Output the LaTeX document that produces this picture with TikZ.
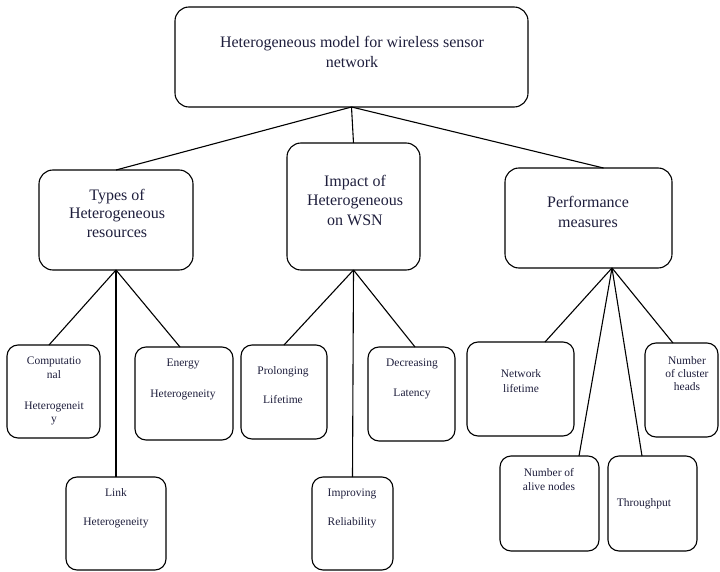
\documentclass[tikz,border=0pt]{standalone}
\usepackage{fontspec}
\setmainfont{Liberation Serif}
\usetikzlibrary{calc}
\definecolor{ink}{RGB}{30,30,60}
\begin{document}
\begin{tikzpicture}[x=1pt,y=-1pt,
  box/.style={draw=black, line width=1.1pt, rounded corners=14pt, inner sep=0pt, outer sep=0pt},
  sbox/.style={box, rounded corners=11pt},
  big/.style={font=\fontsize{16}{19}\selectfont, align=center, inner sep=0pt, text=ink},
  small/.style={font=\fontsize{11.5}{13.5}\selectfont, align=center, inner sep=0pt, text=ink},
  conn/.style={line width=1.1pt, draw=black}]
\useasboundingbox (0,0) rectangle (720,572);
% boxes
\node[box, minimum width=353pt, minimum height=100pt] (root) at (351.5,57) {};
\node[box, minimum width=154pt, minimum height=100pt] (types) at (116,220) {};
\node[box, minimum width=133pt, minimum height=127pt] (impact) at (353.5,206.5) {};
\node[box, minimum width=167pt, minimum height=100pt] (perf) at (588.5,218) {};
\node[sbox, minimum width=93pt, minimum height=93pt] (comp) at (53.5,391.5) {};
\node[sbox, minimum width=98pt, minimum height=93pt] (energy) at (184,393.5) {};
\node[sbox, minimum width=100pt, minimum height=93pt] (linkb) at (116,523.5) {};
\node[sbox, minimum width=86pt, minimum height=94pt] (prolong) at (284,392) {};
\node[sbox, minimum width=87pt, minimum height=94pt] (decr) at (411.5,394) {};
\node[sbox, minimum width=81pt, minimum height=93pt] (impr) at (352.5,523.5) {};
\node[sbox, minimum width=107pt, minimum height=94pt] (net) at (520.5,389) {};
\node[sbox, minimum width=73pt, minimum height=94pt] (clus) at (681.5,390) {};
\node[sbox, minimum width=99pt, minimum height=95pt] (alive) at (549.5,503.5) {};
\node[sbox, minimum width=89pt, minimum height=95pt] (thr) at (652.5,503.5) {};
% texts
\node[big, font=\fontsize{16}{20}\selectfont] (troot) at (352,52) {Heterogeneous model for wireless sensor\\network};
\node[big, font=\fontsize{16}{18.5}\selectfont] (ttypes) at (117,213) {Types of\\Heterogeneous\\resources};
\node[big, font=\fontsize{16}{19.5}\selectfont] (timpact) at (355,200) {Impact of\\Heterogeneous\\on WSN};
\node[big, font=\fontsize{16}{20}\selectfont] (tperf) at (588,212) {Performance\\measures};
\node[small, font=\fontsize{11.5}{13.5}\selectfont] (tcomp) at (54,391) {Computatio\\nal\\[17.5pt]Heterogeneit\\y};
\node[small] (tenergy) at (183,379.5) {Energy\\[17pt]Heterogeneity};
\node[small] (tlink) at (116,508.5) {Link\\[15.5pt]Heterogeneity};
\node[small] (tprolong) at (283,385.5) {Prolonging\\[15.5pt]Lifetime};
\node[small] (tdecr) at (412,379) {Decreasing\\[16.5pt]Latency};
\node[small] (timpr) at (352,508.5) {Improving\\[15.5pt]Reliability};
\node[small] (tnet) at (521,381) {Network\\[1.5pt]lifetime};
\node[small, font=\fontsize{11.5}{13}\selectfont] (tclus) at (687,374) {Number\\of cluster\\heads};
\node[small, font=\fontsize{11.5}{14}\selectfont] (talive) at (549,480) {Number of\\alive nodes};
\node[small] (tthr) at (644,504) {Throughput};
% connectors
\draw[conn] (root.south) -- (types.north);
\draw[conn] (root.south) -- (impact.north);
\draw[conn] (root.south) -- ([xshift=15pt]perf.north);
\draw[conn] (types.south) -- ([xshift=-4.5pt]comp.north);
\draw[conn] (types.south) -- ([xshift=-4pt]energy.north);
\draw[conn] (types.south) -- (linkb.north);
\draw[conn] (impact.south) -- (prolong.north);
\draw[conn] (impact.south) -- ([xshift=3.5pt]decr.north);
\draw[conn] (impact.south) -- (impr.north);
\draw[conn] ([xshift=23.5pt]perf.south) -- ([xshift=24.5pt]net.north);
\draw[conn] ([xshift=23.5pt]perf.south) -- ([xshift=29.5pt]alive.north);
\draw[conn] ([xshift=23.5pt]perf.south) -- ([xshift=-10.5pt]thr.north);
\draw[conn] ([xshift=23.5pt]perf.south) -- ([xshift=-8.5pt]clus.north);
\end{tikzpicture}
\end{document}
